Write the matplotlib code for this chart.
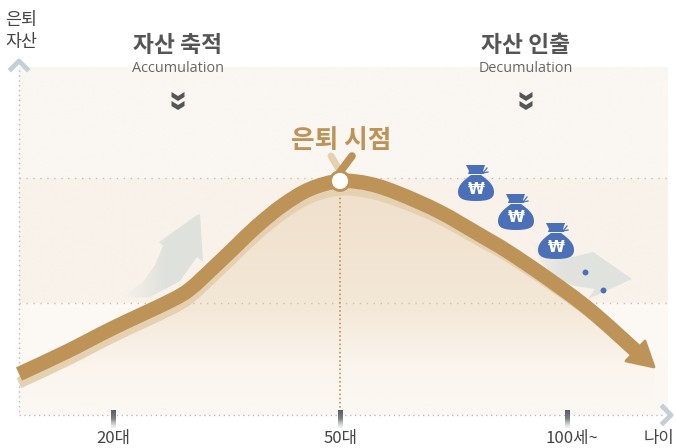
import numpy as np
import matplotlib
matplotlib.use('Agg')
import matplotlib.pyplot as plt
from matplotlib.colors import to_rgb
from matplotlib.patches import Polygon, Circle, PathPatch
from matplotlib.path import Path

plt.rcParams['font.family'] = ['Noto Sans CJK KR', 'DejaVu Sans']

# curve, in image pixels
curve_x = [19, 66, 113, 170, 190, 213, 235, 257, 283, 310, 340, 370, 400, 440, 480, 507, 547, 590, 636]
curve_y = [374, 352, 328, 301, 289, 268, 247, 226, 205, 189, 181, 184, 194, 212, 235, 251, 278, 310, 351]
shadow_off = [9, 9, 9, 9, 9, 9, 9, 9, 9, 9, 9, 9, 8, 7, 6, 5, 4, 3, 2]
tick_x = [113, 340, 567]
label_x = [113, 341, 572]
tick_labels = ['20대', '50대', '100세~']
grid_y = [178, 303]
bag_x = [476, 516, 556]
bag_y = [188, 217, 246]
dot_x = [585, 603]
dot_y = [272, 290]
stage_x = [178, 526]
stage_ko = ['자산 축적', '자산 인출']
stage_en = ['Accumulation', 'Decumulation']

BROWN = '#bd9358'
SHADOW = '#e5d0b2'
BLUE = '#4b70b7'
DARK = '#555555'
TEXT = '#444444'


def smooth(xs, ys):
    # catmull-rom through the read points, as a bezier path
    pts = np.column_stack([xs, ys]).astype(float)
    verts = [pts[0]]
    codes = [Path.MOVETO]
    for i in range(len(pts) - 1):
        p0 = pts[max(i - 1, 0)]
        p1 = pts[i]
        p2 = pts[i + 1]
        p3 = pts[min(i + 2, len(pts) - 1)]
        verts += [p1 + (p2 - p0) / 6, p2 - (p3 - p1) / 6, p2]
        codes += [Path.CURVE4] * 3
    return Path(verts, codes)


def grad(ax, box, stops, clip=None, zorder=1, horizontal=False):
    # stops = list of (position, colour, alpha)
    x0, x1, y0, y1 = box
    t = np.linspace(0, 1, 256)
    pos = [s[0] for s in stops]
    rgba = np.zeros((256, 1, 4))
    rgb = [to_rgb(s[1]) for s in stops]
    for i in range(3):
        rgba[:, 0, i] = np.interp(t, pos, [c[i] for c in rgb])
    rgba[:, 0, 3] = np.interp(t, pos, [s[2] for s in stops])
    if horizontal:
        rgba = rgba.transpose(1, 0, 2)
    im = ax.imshow(rgba, extent=[x0, x1, y1, y0], aspect='auto', zorder=zorder,
                   interpolation='bilinear')
    if clip is not None:
        patch = Polygon(clip, closed=True, transform=ax.transData, fc='none', ec='none')
        ax.add_patch(patch)
        im.set_clip_path(patch)
    return im


def bag(ax, cx, cy):
    body = np.array([(-5, -13), (-12, -8), (-18, -3), (-18, 4), (-18, 11), (-12, 13), (0, 13),
                     (12, 13), (18, 11), (18, 4), (18, -3), (12, -8), (5, -13), (-5, -13)], float)
    codes = [Path.MOVETO] + [Path.CURVE4] * 12 + [Path.CLOSEPOLY]
    ax.add_patch(PathPatch(Path(body + [cx, cy], codes), fc=BLUE, ec='none', zorder=7))
    hat = np.array([(-10, -23), (9, -23), (7, -17), (8, -14), (-8, -14), (-7, -17)], float)
    ax.add_patch(Polygon(hat + [cx, cy], fc=BLUE, ec='none', zorder=7))
    ax.plot([cx + 7, cx + 11], [cy - 15, cy - 20], color=BLUE, lw=0.9, zorder=7)
    ax.plot([cx + 7, cx + 12], [cy - 15, cy - 16], color=BLUE, lw=0.9, zorder=7)
    ax.text(cx, cy + 1, '₩', color='white', fontsize=11, fontweight='bold',
            fontfamily=['DejaVu Sans'], ha='center', va='center', zorder=8)


def chevrons(ax, cx, cy):
    for dy in (-9, 0):
        ax.add_patch(Polygon([[cx - 6.5, cy + dy], [cx, cy + dy + 4], [cx + 6.5, cy + dy],
                              [cx + 6.5, cy + dy + 5], [cx, cy + dy + 9], [cx - 6.5, cy + dy + 5]],
                             fc=DARK, ec='none', zorder=6))


fig = plt.figure(figsize=(6.76, 4.48), dpi=100)
ax = fig.add_axes([0, 0, 1, 1])

# background bands
grad(ax, (19, 668, 67, 178), [(0, '#faf7f3', 1), (1, '#faf6f1', 1)], zorder=1)
grad(ax, (19, 668, 178, 303), [(0, '#f8f2eb', 1), (1, '#f8f2ea', 1)], zorder=1)
grad(ax, (19, 668, 303, 415), [(0, '#fdf9f4', 1), (1, '#fbf8f3', 1)], zorder=1)

# fill under the curve
line_path = smooth(curve_x, curve_y)
under = np.vstack([line_path.interpolated(12).vertices, [(654, 368), (654, 415), (19, 415)]])
grad(ax, (19, 668, 181, 415),
     [(0, '#efe0cb', 1), (0.52, '#f3e7d6', 1), (0.8, '#fbf5ee', 1), (1, '#fbf8f3', 1)],
     clip=under, zorder=2)

# gridlines and axes
for gy in grid_y:
    ax.plot([19, 668], [gy, gy], color='#c9c1b5', lw=1, ls=(0, (1, 4)), zorder=3)
ax.plot([19, 19], [70, 415], color='#b9bcbc', lw=1, ls=(0, (1, 2.5)), zorder=3)
ax.plot([19, 664], [415, 415], color='#b9bcbc', lw=1, ls=(0, (1, 2.5)), zorder=3)
ax.plot([340, 340], [181, 415], color='#bd9358', lw=1.2, ls=(0, (1, 1.5)), zorder=4)

# grey arrows
up_arrow = [(123, 296), (143, 282), (155, 265), (163, 246), (159, 242), (197, 215), (200, 214),
            (203, 262), (197, 257), (180, 281), (150, 297), (135, 298)]
grad(ax, (123, 204, 214, 300), [(0, '#dfe0dc', 0), (0.55, '#e0e1dd', 1), (1, '#dfe2de', 1)],
     clip=up_arrow, zorder=3, horizontal=True)
right_arrow = [(530, 240), (552, 252), (573, 257), (593, 252), (632, 279), (588, 299), (595, 289),
               (575, 286), (557, 279), (540, 261)]
grad(ax, (530, 633, 238, 300), [(0, '#e4e4df', 0), (0.3, '#e2e3df', 1), (1, '#dfe2de', 1)],
     clip=right_arrow, zorder=3, horizontal=True)

# shadow then main curve
shadow_y = [y + o for y, o in zip(curve_y, shadow_off)]
ax.add_patch(PathPatch(smooth(curve_x, shadow_y), fc='none', ec=SHADOW, lw=8,
                       capstyle='butt', zorder=4))
ax.add_patch(PathPatch(line_path, fc='none', ec=BROWN, lw=10.5, capstyle='butt',
                       joinstyle='round', zorder=5))
ax.add_patch(Polygon([[645, 341], [654, 367], [626, 361]], fc=BROWN, ec=BROWN, lw=2,
                     joinstyle='round', zorder=5))

# retirement point
ax.plot([331, 340], [156, 171], color=SHADOW, lw=5, solid_capstyle='round', zorder=5)
ax.plot([352, 340], [156, 172], color=BROWN, lw=5.5, solid_capstyle='round', zorder=5)
ax.add_patch(Circle((340, 181), 9.5, fc='white', ec=BROWN, lw=2, zorder=6))
ax.text(341, 141, '은퇴 시점', color=BROWN, fontsize=18.5, fontweight='bold',
        ha='center', va='center', zorder=6)

# stage headings
for sx, ko, en in zip(stage_x, stage_ko, stage_en):
    ax.text(sx, 45, ko, color=DARK, fontsize=16.4, fontweight='bold', ha='center', va='center')
    ax.text(sx, 69, en, color='#666666', fontsize=10.4, fontfamily=['Open Sans'],
            ha='center', va='center', zorder=6)
    chevrons(ax, sx, 101)

for bx, by in zip(bag_x, bag_y):
    bag(ax, bx, by)
ax.scatter(dot_x, dot_y, s=18, color=BLUE, zorder=7, linewidths=0)

# ticks and labels
for tx, lx, lab in zip(tick_x, label_x, tick_labels):
    grad(ax, (tx - 2.5, tx + 2.5, 410, 428),
         [(0, '#555c63', 1), (0.5, '#7c838a', 1), (1, '#d5d8da', 0.3)], zorder=6)
    ax.text(lx, 438.5, lab, color=TEXT, fontsize=12, ha='center', va='center')

# axis ends
ax.plot([11, 19, 27], [69, 61, 69], color='#c3d0d8', lw=3.5, zorder=6)
ax.plot([663, 671, 663], [407, 415, 423], color='#c3d0d8', lw=3.5, zorder=6)
ax.text(21.5, 20, '은퇴', color=TEXT, fontsize=12.5, ha='center', va='center')
ax.text(21.5, 42, '자산', color=TEXT, fontsize=12.5, ha='center', va='center')
ax.text(659, 438.5, '나이', color=TEXT, fontsize=12, ha='center', va='center')

ax.set_xlim(0, 676)
ax.set_ylim(448, 0)
ax.axis('off')
fig.savefig('out.png', dpi=100)
